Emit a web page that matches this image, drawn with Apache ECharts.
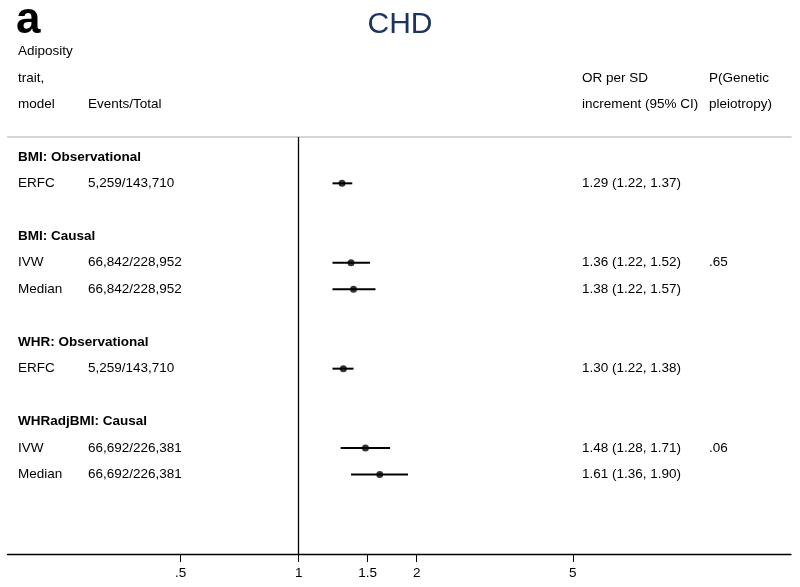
<!DOCTYPE html>
<html>
<head>
<meta charset="utf-8">
<script src="https://cdn.jsdelivr.net/npm/echarts@6/dist/echarts.min.js"></script>
<style>
html,body{margin:0;padding:0;background:#fff;}
#main{width:800px;height:587px;}
</style>
</head>
<body>
<div id="main"></div>
<script>
// ---- data ----
const groupLabels = ['BMI: Observational', 'BMI: Causal', 'WHR: Observational', 'WHRadjBMI: Causal'];
const groupRows = [0, 3, 7, 10];
const modelLabels = ['ERFC', 'IVW', 'Median', 'ERFC', 'IVW', 'Median'];
const eventsTotal = ['5,259/143,710', '66,842/228,952', '66,842/228,952', '5,259/143,710', '66,692/226,381', '66,692/226,381'];
const estimateRows = [1, 4, 5, 8, 11, 12];
const orValues = [1.29, 1.36, 1.38, 1.30, 1.48, 1.61];
const ciLower = [1.22, 1.22, 1.22, 1.22, 1.28, 1.36];
const ciUpper = [1.37, 1.52, 1.57, 1.38, 1.71, 1.90];
const pPleiotropy = ['', '.65', '', '', '.06', ''];
const xTickValues = [0.5, 1, 1.5, 2, 5];
const xTickLabels = ['.5', '1', '1.5', '2', '5'];

// ---- layout ----
const FONT = '"Liberation Sans", Arial, Helvetica, sans-serif';
const FS = 13.5;
const colModelX = 18, colEventsX = 88, colOrX = 582, colPX = 709;

const chart = echarts.init(document.getElementById('main'), null, {renderer: 'canvas'});

const pointData = orValues.map((v, i) => [v, estimateRows[i]]);
const ciData = ciLower.map((lo, i) => [lo, ciUpper[i], estimateRows[i]]);
const groupData = groupLabels.map((g, i) => [1, groupRows[i], g]);
const rowTextData = modelLabels.map((m, i) => [1, estimateRows[i], m, eventsTotal[i],
  orValues[i].toFixed(2) + ' (' + ciLower[i].toFixed(2) + ', ' + ciUpper[i].toFixed(2) + ')', pPleiotropy[i]]);

function txt(x, y, s, bold) {
  return {type: 'text', x: x, y: y, style: {text: s, font: (bold ? 'bold ' : '') + FS + 'px ' + FONT,
    fill: '#000', textVerticalAlign: 'middle', textAlign: 'left'}};
}

const option = {
  backgroundColor: '#fff',
  animation: false,
  title: {
    text: 'CHD', left: 'center', top: 5,
    textStyle: {fontFamily: FONT, fontSize: 30, fontWeight: 'normal', color: '#1d3462'}
  },
  grid: {left: 7.5, right: 9, top: 137, bottom: 33, containLabel: false},
  xAxis: [{
    type: 'log', min: 0.181, max: 18, position: 'bottom',
    axisLine: {show: true, onZero: false, lineStyle: {color: '#000', width: 1.3}},
    axisTick: {show: true, length: 8, inside: false, customValues: xTickValues, lineStyle: {color: '#000', width: 1}},
    axisLabel: {show: true, customValues: xTickValues, margin: 12, fontFamily: FONT, fontSize: FS, color: '#000',
      formatter: function (v) { const i = xTickValues.findIndex(t => Math.abs(t - v) < 1e-9); return i >= 0 ? xTickLabels[i] : ''; }},
    splitLine: {show: false},
    minorTick: {show: false}
  }, {
    type: 'log', min: 0.181, max: 18, position: 'top',
    axisLine: {show: true, onZero: false, lineStyle: {color: '#c8c8c8', width: 1.5}},
    axisTick: {show: false}, axisLabel: {show: false}, splitLine: {show: false}
  }],
  yAxis: {
    type: 'value', min: -0.75, max: 15, inverse: true, show: false
  },
  graphic: [
    {type: 'text', left: 16, top: -1, style: {text: 'a', font: 'bold 44px ' + FONT, fill: '#000'}},
    txt(colModelX, 51, 'Adiposity'),
    txt(colModelX, 78, 'trait,'),
    txt(colModelX, 104, 'model'),
    txt(colEventsX, 104, 'Events/Total'),
    txt(colOrX, 78, 'OR per SD'),
    txt(colOrX, 104, 'increment (95% CI)'),
    txt(colPX, 78, 'P(Genetic'),
    txt(colPX, 104, 'pleiotropy)')
  ],
  series: [
    {
      type: 'custom', name: 'ci', xAxisIndex: 0, yAxisIndex: 0,
      data: ciData, encode: {x: [0, 1], y: 2},
      renderItem: function (params, api) {
        const p1 = api.coord([api.value(0), api.value(2)]);
        const p2 = api.coord([api.value(1), api.value(2)]);
        return {type: 'line', shape: {x1: p1[0], y1: p1[1], x2: p2[0], y2: p2[1]},
          style: {stroke: '#000', lineWidth: 2}};
      },
      z: 3
    },
    {
      type: 'scatter', name: 'OR', xAxisIndex: 0, yAxisIndex: 0,
      data: pointData, symbol: 'circle', symbolSize: 7,
      itemStyle: {color: '#000'}, z: 4,
      markLine: {
        silent: true, symbol: 'none', label: {show: false},
        lineStyle: {color: '#000', width: 1.3, type: 'solid'},
        data: [{xAxis: 1}]
      }
    },
    {
      type: 'custom', name: 'groups', xAxisIndex: 0, yAxisIndex: 0,
      data: groupData, encode: {x: 0, y: 1}, clip: false,
      renderItem: function (params, api) {
        const p = api.coord([api.value(0), api.value(1)]);
        return txt(colModelX, p[1], groupLabels[params.dataIndex], true);
      }
    },
    {
      type: 'custom', name: 'rows', xAxisIndex: 0, yAxisIndex: 0,
      data: rowTextData, encode: {x: 0, y: 1}, clip: false,
      renderItem: function (params, api) {
        const p = api.coord([api.value(0), api.value(1)]);
        const r = rowTextData[params.dataIndex];
        return {type: 'group', children: [
          txt(colModelX, p[1], r[2]),
          txt(colEventsX, p[1], r[3]),
          txt(colOrX, p[1], r[4]),
          txt(colPX, p[1], r[5])
        ]};
      }
    }
  ]
};
chart.setOption(option);
</script>
</body>
</html>
